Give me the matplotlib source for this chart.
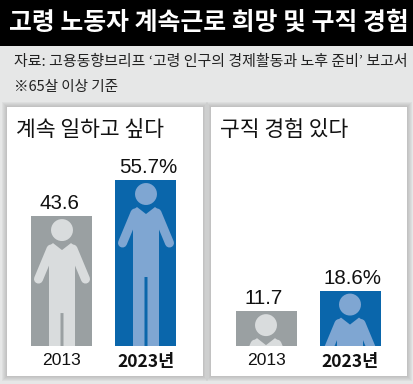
import math
import matplotlib
matplotlib.use("Agg")
import matplotlib.pyplot as plt
from matplotlib.patches import Rectangle, Polygon

plt.rcParams['font.family'] = ['Noto Sans CJK KR', 'DejaVu Sans']

title = "고령 노동자 계속근로 희망 및 구직 경험"
source = "자료: 고용동향브리프 ‘고령 인구의 경제활동과 노후 준비’ 보고서"
note = "※65살 이상 기준"

years = ["2013", "2023년"]
keep_working = [43.6, 55.7]
keep_labels = ["43.6", "55.7%"]
job_search = [11.7, 18.6]
job_labels = ["11.7", "18.6%"]

W, H = 414, 384
fig = plt.figure(figsize=(W / 100, H / 100), dpi=100, facecolor="#e6e7e7")


def fig_rect(x0, y0, x1, y1, **kw):
    # pixel box, y counted from the top
    fig.add_artist(Rectangle((x0 / W, 1 - y1 / H), (x1 - x0) / W, (y1 - y0) / H,
                             transform=fig.transFigure, **kw))


fig_rect(0, 0, W, 46, color="black", lw=0)
fig.text(209 / W, 1 - 23 / H, title, color="white", fontsize=17.9, weight="bold",
         ha="center", va="center")
fig.text(14 / W, 1 - 62 / H, source, color="#222222", fontsize=10.8, ha="left", va="center")
fig.text(14 / W, 1 - 87 / H, note, color="#222222", fontsize=10.5, ha="left", va="center")

# soft shadow round the panels
for x0, x1 in [(7, 203), (211, 407)]:
    for g in [5, 4, 3, 2, 1]:
        fig_rect(x0 - g, 107 - g, x1 + g, 376 + g, color="#8c8c8c", alpha=0.09, lw=0)
    fig_rect(x0, 107, x1, 376, color="white", lw=0)

PX_X = 84.0  # pixels per category
PX_Y = 2.98  # pixels per percent


def person(ax, xc, top, bar, color):
    def pt(dx, dy):
        return xc + dx / PX_X, top - dy / PX_Y

    head = Polygon([pt(11 * math.cos(a / 30 * 2 * math.pi),
                       14 + 11 * math.sin(a / 30 * 2 * math.pi)) for a in range(30)],
                   color=color, lw=0, zorder=3)
    body = Polygon([pt(*p) for p in [(0, 34), (-9, 27), (-13, 30), (-13, 166),
                                     (-1.5, 166), (-1.5, 97), (1.5, 97), (1.5, 166), (13, 166),
                                     (13, 30), (9, 27)]],
                   color=color, lw=0, zorder=3)
    items = [ax.add_patch(head), ax.add_patch(body)]
    for s in [-1, 1]:
        x, y = zip(pt(s * 11, 33), pt(s * 23.5, 63))
        items += ax.plot(x, y, color=color, lw=6.5, solid_capstyle="round", zorder=3)
    for it in items:
        it.set_clip_path(bar)


def panel(x_left, x_right, heading, values, labels):
    # axes spans the panel width, baseline at y=346 px
    ax = fig.add_axes([x_left / W, 1 - 346 / H, (x_right - x_left) / W, 180 / H], zorder=5)
    c0 = x_left + 55
    ax.set_xlim((x_left - c0) / PX_X, (x_right - c0) / PX_X)
    ax.set_ylim(0, 180 / PX_Y)
    ax.patch.set_alpha(0)
    bars = ax.bar([0, 1], values, width=61 / PX_X, color=["#9aa0a2", "#0a66ab"], zorder=2)
    for i, bar in enumerate(bars):
        person(ax, i, values[i], bar, ["#d9dcdd", "#7fa6d2"][i])
        ax.annotate(labels[i], (i, values[i]), xytext=([-1.5, 1.5][i], 2), textcoords="offset points",
                    ha="center", va="bottom", fontsize=14.8, color="#111111",
                    fontfamily="Liberation Sans")
    ax.set_xticks([0, 1], years, fontsize=12.6)
    ax.get_xticklabels()[0].set_fontfamily(["Liberation Sans"])
    ax.get_xticklabels()[1].set_fontweight("bold")
    ax.tick_params(axis="x", length=0, pad=5, colors="#111111")
    ax.set_yticks([])
    for s in ax.spines.values():
        s.set_visible(False)
    fig.text((x_left + 9) / W, 1 - 130 / H, heading, fontsize=15.5, color="#111111",
             weight="medium", ha="left", va="center", zorder=6)


panel(7, 203, "계속 일하고 싶다", keep_working, keep_labels)
panel(211, 407, "구직 경험 있다", job_search, job_labels)

fig.savefig("out.png", dpi=100, facecolor=fig.get_facecolor())
